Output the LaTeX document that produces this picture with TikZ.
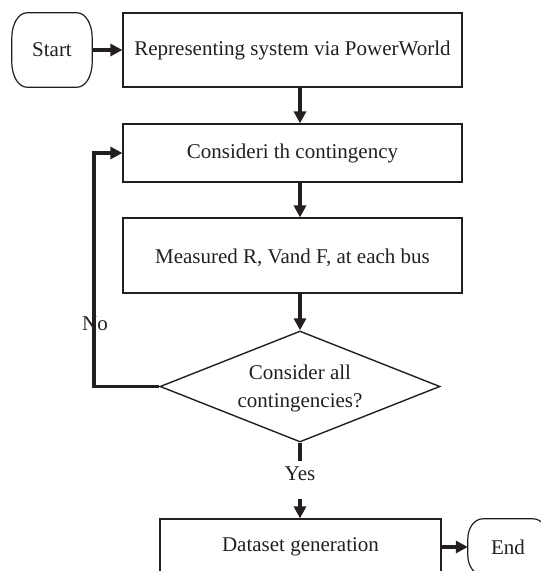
\documentclass[tikz,border=0pt]{standalone}
\usepackage{fontspec}
\setmainfont{Liberation Serif}
\usetikzlibrary{arrows.meta,shapes.geometric}
\definecolor{ink}{RGB}{35,31,32}
\begin{document}
\begin{tikzpicture}[x=1pt,y=1pt,
  every node/.style={text=ink,font=\fontsize{21}{25}\selectfont},
  procbox/.style={draw=ink,line width=1.2pt,rectangle,inner sep=0pt},
  termnode/.style={rectangle,inner sep=0pt},
  termline/.style={draw=ink,line width=1.2pt},
  decision/.style={draw=ink,line width=1.4pt,diamond,inner sep=0pt,minimum width=280pt,minimum height=111pt},
  flow/.style={draw=ink,line width=3.2pt,-{Triangle[length=12pt,width=12pt]}},
  plain/.style={draw=ink,line width=3.2pt}]
\useasboundingbox (0,0) rectangle (541,-571);

% terminals (outline with elliptical corners) and process boxes
\node[termnode,minimum width=80pt,minimum height=74pt] (start) at (52,-50) {Start};
\draw[termline] ([xshift=15pt]start.north west) -- ([xshift=-15pt]start.north east)
  arc[start angle=90,end angle=0,x radius=15pt,y radius=25pt]
  -- ([yshift=25pt]start.south east)
  arc[start angle=0,end angle=-90,x radius=15pt,y radius=25pt]
  -- ([xshift=15pt]start.south west)
  arc[start angle=270,end angle=180,x radius=15pt,y radius=25pt]
  -- ([yshift=-25pt]start.north west)
  arc[start angle=180,end angle=90,x radius=15pt,y radius=25pt] -- cycle;

\node[procbox,minimum width=339pt,minimum height=74pt] (box1) at (292.5,-50) {Representing system via PowerWorld};
\node[procbox,minimum width=339pt,minimum height=58pt] (box2) at (292.5,-153) {Consideri th contingency};
\node[procbox,minimum width=339pt,minimum height=75pt] (box3) at (292.5,-255.5) {};
\node (box3text) at (292.5,-258) {Measured R, Vand F, at each bus};

% decision
\node[decision] (dec) at (300,-386.5) {};
\node[align=center,font=\fontsize{21}{28}\selectfont] (dectext) at (300,-388) {Consider all\\contingencies?};

% final step
\node[procbox,minimum width=281pt,minimum height=56pt] (data) at (300.5,-547) {Dataset generation};
\node[termnode,minimum width=80pt,minimum height=56pt] (end) at (508,-547) {End};
\draw[termline] ([xshift=15pt]end.north west) -- ([xshift=-15pt]end.north east)
  arc[start angle=90,end angle=0,x radius=15pt,y radius=20pt]
  -- ([yshift=20pt]end.south east)
  arc[start angle=0,end angle=-90,x radius=15pt,y radius=20pt]
  -- ([xshift=15pt]end.south west)
  arc[start angle=270,end angle=180,x radius=15pt,y radius=20pt]
  -- ([yshift=-20pt]end.north west)
  arc[start angle=180,end angle=90,x radius=15pt,y radius=20pt] -- cycle;

% main flow
\draw[flow] (start.east) -- (box1.west);
\draw[flow] (box1.south -| dec.north) -- (box2.north -| dec.north);
\draw[flow] (box2.south -| dec.north) -- (box3.north -| dec.north);
\draw[flow] (box3.south -| dec.north) -- (dec.north);

% "No" loop back to the contingency step
\coordinate (loop) at (94,-153);
\draw[flow] (dec.west) -| (loop) -- (box2.west);
\node (no) at (95,-324) {No};

% "Yes" branch
\coordinate (yesA) at (300,-461);
\coordinate (yesB) at (300,-499);
\draw[plain] (dec.south) -- (yesA);
\node (yes) at (300,-474) {Yes};
\draw[flow] (yesB) -- (data.north -| yesB);
\draw[flow] (data.east) -- (end.west);
\end{tikzpicture}
\end{document}
